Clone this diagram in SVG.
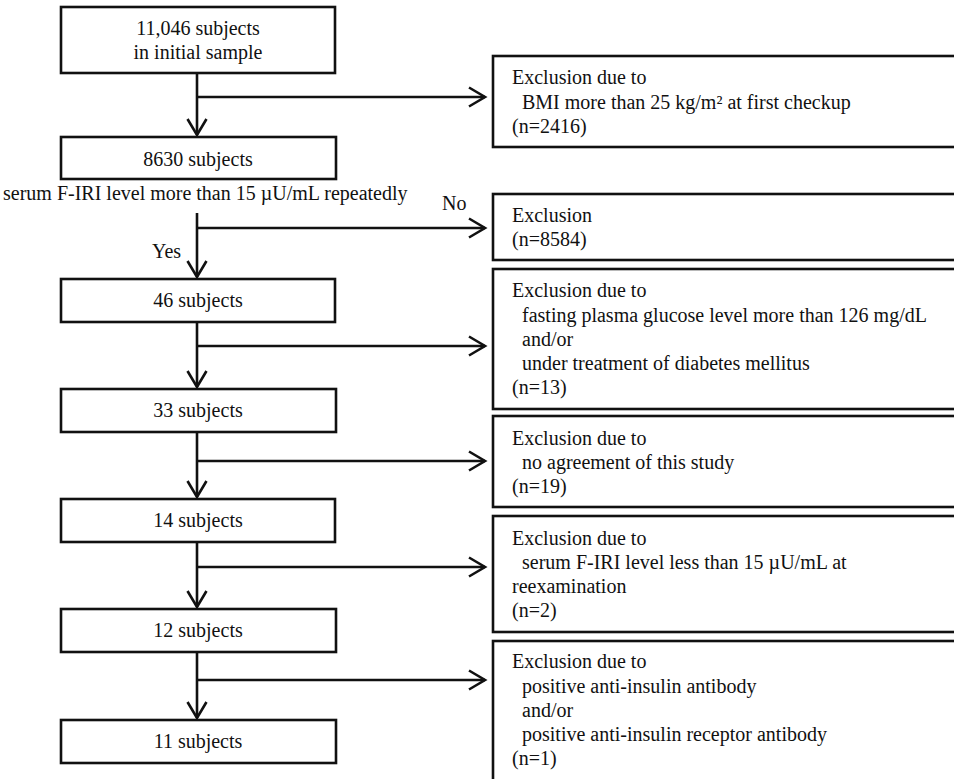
<svg xmlns="http://www.w3.org/2000/svg" width="954" height="779" viewBox="0 0 954 779">
<style>
.box{fill:#fff;stroke:#111;stroke-width:2.6}
.ln{fill:none;stroke:#111;stroke-width:2.6}
text{font-family:"Liberation Serif","Times New Roman",serif;font-size:20px;fill:#111}
.c{text-anchor:middle}
</style>
<defs>
<marker id="ah" viewBox="-20 -12 24 24" refX="0" refY="0" markerWidth="24" markerHeight="24" markerUnits="userSpaceOnUse" orient="auto">
<path d="M -16 -9.5 L 0 0 L -16 9.5" fill="none" stroke="#111" stroke-width="2.6"/>
</marker>
</defs>
<rect width="954" height="779" fill="#fff"/>
<g id="connectors">
<path class="ln" d="M197 73 V135" marker-end="url(#ah)"/>
<path class="ln" d="M197 97 H485" marker-end="url(#ah)"/>
<path class="ln" d="M197 213 V277" marker-end="url(#ah)"/>
<path class="ln" d="M197 228 H485" marker-end="url(#ah)"/>
<path class="ln" d="M197 322 V387" marker-end="url(#ah)"/>
<path class="ln" d="M197 346 H485" marker-end="url(#ah)"/>
<path class="ln" d="M197 432 V497" marker-end="url(#ah)"/>
<path class="ln" d="M197 461 H485" marker-end="url(#ah)"/>
<path class="ln" d="M197 542 V607" marker-end="url(#ah)"/>
<path class="ln" d="M197 567 H485" marker-end="url(#ah)"/>
<path class="ln" d="M197 652 V718" marker-end="url(#ah)"/>
<path class="ln" d="M197 680 H485" marker-end="url(#ah)"/>
<text x="442" y="210">No</text>
<text x="152" y="258">Yes</text>
</g>
<g id="n1"><rect class="box" x="61" y="7" width="274" height="66"/><text class="c" x="198" y="35">11,046 subjects</text><text class="c" x="198" y="59">in initial sample</text></g>
<g id="n2"><rect class="box" x="61" y="137" width="275" height="42"/><text class="c" x="198" y="166">8630 subjects</text></g>
<g id="decision"><text x="3" y="200">serum F-IRI level more than 15 µU/mL repeatedly</text></g>
<g id="n3"><rect class="box" x="61" y="279" width="274" height="43"/><text class="c" x="198" y="307">46 subjects</text></g>
<g id="n4"><rect class="box" x="61" y="389" width="275" height="43"/><text class="c" x="198" y="417">33 subjects</text></g>
<g id="n5"><rect class="box" x="61" y="499" width="274" height="43"/><text class="c" x="198" y="527">14 subjects</text></g>
<g id="n6"><rect class="box" x="61" y="609" width="275" height="43"/><text class="c" x="198" y="637">12 subjects</text></g>
<g id="n7"><rect class="box" x="61" y="720" width="275" height="43"/><text class="c" x="198" y="748">11 subjects</text></g>
<g id="e1"><rect class="box" x="493" y="56" width="500" height="91"/><text x="512" y="84">Exclusion due to</text><text x="522" y="109">BMI more than 25 kg/m² at first checkup</text><text x="512" y="133">(n=2416)</text></g>
<g id="e2"><rect class="box" x="493" y="194" width="500" height="66"/><text x="512" y="222">Exclusion</text><text x="512" y="246">(n=8584)</text></g>
<g id="e3"><rect class="box" x="493" y="269" width="500" height="140"/><text x="512" y="297">Exclusion due to</text><text x="522" y="322">fasting plasma glucose level more than 126 mg/dL</text><text x="522" y="346">and/or</text><text x="522" y="370">under treatment of diabetes mellitus</text><text x="512" y="394">(n=13)</text></g>
<g id="e4"><rect class="box" x="493" y="416" width="500" height="91"/><text x="512" y="445">Exclusion due to</text><text x="522" y="469">no agreement of this study</text><text x="512" y="493">(n=19)</text></g>
<g id="e5"><rect class="box" x="493" y="516" width="500" height="116"/><text x="512" y="545">Exclusion due to</text><text x="522" y="569">serum F-IRI level less than 15 µU/mL at</text><text x="512" y="593">reexamination</text><text x="512" y="617">(n=2)</text></g>
<g id="e6"><rect class="box" x="493" y="641" width="500" height="160"/><text x="512" y="668">Exclusion due to</text><text x="522" y="693">positive anti-insulin antibody</text><text x="522" y="717">and/or</text><text x="522" y="741">positive anti-insulin receptor antibody</text><text x="512" y="765">(n=1)</text></g>
</svg>
